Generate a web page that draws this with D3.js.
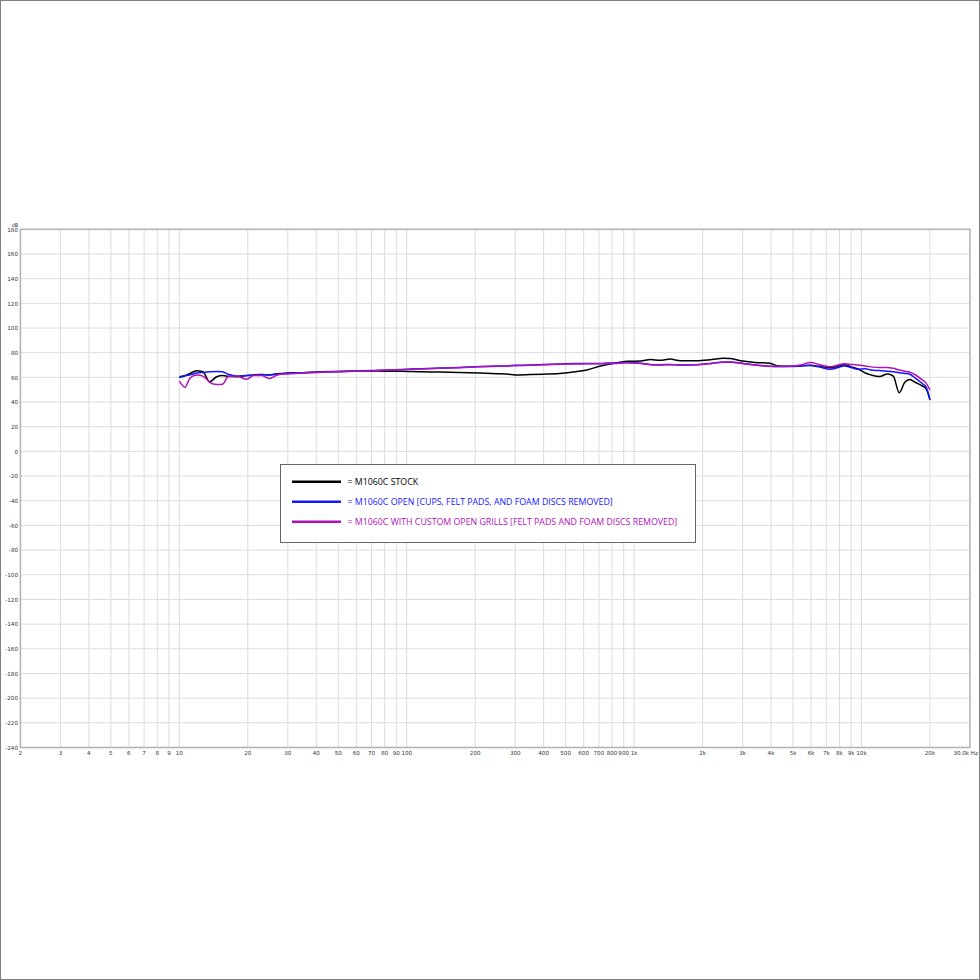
<!DOCTYPE html>
<html>
<head>
<meta charset="utf-8">
<script src="https://cdn.jsdelivr.net/npm/d3@7"></script>
<style>
  html, body { margin: 0; padding: 0; background: #fff; }
  svg { display: block; }
</style>
</head>
<body>
<svg id="chart" width="980" height="980"></svg>
<script>
// ---- data ----
const freqs = [10, 10.6, 11.1, 11.9, 12.7, 13.6, 14.6, 15.5, 16.4, 17.9, 19.8, 21.2, 23, 25, 27, 30, 35, 42, 50, 60, 70, 80, 95, 115, 140, 170, 210, 250, 280, 300, 350, 400, 470, 550, 620, 710, 820, 930, 1070, 1180, 1300, 1440, 1600, 1880, 2200, 2460, 2650, 3000, 3400, 3960, 4300, 4900, 5400, 5950, 6500, 7300, 7900, 8400, 9000, 9600, 10400, 11000, 12000, 13000, 13800, 14650, 15500, 16300, 17300, 18500, 19200, 20000];

const stock = [60, 61.3, 63, 65.4, 64.5, 56.5, 60.5, 61.5, 60.8, 60.5, 61.5, 62, 62.3, 62, 63, 63.5, 63.8, 64.3, 64.8, 65, 65.2, 65, 65, 64.5, 64.3, 64, 63.5, 63, 62.6, 62, 62.3, 62.6, 63.2, 64.5, 66, 69.2, 71.5, 73, 73.3, 74.5, 73.8, 74.8, 73.5, 73.5, 74.5, 75.4, 75.2, 73.2, 72, 71.5, 69.2, 69, 69.3, 69.8, 69, 67.8, 69, 70.2, 68.5, 67, 63.5, 62, 60.6, 62.8, 61, 47.5, 56, 58.3, 55.8, 53, 51, 42];

const openCups = [60.5, 61.5, 62, 63.5, 64, 64.5, 64.8, 64.5, 62.5, 61, 61.5, 61.8, 62, 62.2, 62.6, 63.3, 63.8, 64.5, 64.8, 65.2, 65.5, 66, 66.4, 67, 67.5, 68, 68.8, 69.2, 69.5, 69.8, 70, 70.5, 70.8, 71.2, 71.2, 71.3, 71.7, 72, 71.5, 70.5, 70.3, 70.5, 70, 70.3, 71.5, 72.5, 72.5, 71.3, 70, 69, 68.8, 68.8, 69.2, 69.6, 68.5, 66.5, 68, 69.2, 68, 66.5, 67, 66, 65.5, 65, 64.5, 63.8, 63.2, 62.5, 59.2, 55, 52.4, 41.6];

const customGrills = [57, 52, 59, 61.9, 61, 56, 54.3, 54.5, 60.5, 61, 58.4, 61.5, 61.5, 59, 62, 62.8, 63.5, 64.2, 64.6, 65, 65.2, 65.8, 66.2, 66.8, 67.3, 67.8, 68.5, 69, 69.2, 69.5, 69.8, 70.2, 70.6, 70.8, 71, 71, 71.3, 71.8, 71.2, 70.2, 70, 70.3, 70, 70.2, 71.3, 72.3, 72.3, 71.2, 70, 69, 68.8, 69, 70, 72, 70.5, 68.5, 70, 71, 70.5, 70, 69.2, 68.5, 68, 68, 67.3, 66, 65, 64.2, 61.9, 58, 55.5, 49.7];

const seriesNames = ["= M1060C STOCK", "= M1060C OPEN [CUPS, FELT PADS, AND FOAM DISCS REMOVED]", "= M1060C WITH CUSTOM OPEN GRILLS [FELT PADS AND FOAM DISCS REMOVED]"];
const seriesColors = ["#000000", "#1414ff", "#b010b8"];

const yTicks = [180, 160, 140, 120, 100, 80, 60, 40, 20, 0, -20, -40, -60, -80, -100, -120, -140, -160, -180, -200, -220, -240];
const xTickValues = [2, 3, 4, 5, 6, 7, 8, 9, 10, 20, 30, 40, 50, 60, 70, 80, 90, 100, 200, 300, 400, 500, 600, 700, 800, 900, 1000, 2000, 3000, 4000, 5000, 6000, 7000, 8000, 9000, 10000, 20000];
const xTickLabels = ["2", "3", "4", "5", "6", "7", "8", "9", "10", "20", "30", "40", "50", "60", "70", "80", "90", "100", "200", "300", "400", "500", "600", "700", "800", "900", "1k", "2k", "3k", "4k", "5k", "6k", "7k", "8k", "9k", "10k", "20k"];
const xEndLabel = "30.0k Hz";
const yUnit = "dB";

// ---- drawing ----
const svg = d3.select("#chart");
const W = 980, H = 980;
const plot = { left: 20.4, right: 970, top: 229.3, bottom: 747.5 };

const x = d3.scaleLog().domain([2, 30000]).range([plot.left, plot.right]);
const y = d3.scaleLinear().domain([-240, 180]).range([plot.bottom, plot.top]);

svg.append("rect").attr("x", 0).attr("y", 0).attr("width", W).attr("height", H).attr("fill", "#fff");
// outer frame
svg.append("rect").attr("x", 0.5).attr("y", 0.5).attr("width", W - 1).attr("height", H - 1)
  .attr("fill", "none").attr("stroke", "#808080").attr("stroke-width", 1);

// grid: vertical lines at 1..9 per decade
const gridX = [];
for (let d = 1; d <= 10000; d *= 10) {
  for (let m = 1; m <= 9; m++) {
    const v = m * d;
    if (v > 2 && v < 30000) gridX.push(v);
  }
}
const g = svg.append("g");
g.selectAll("line.gx").data(gridX).join("line")
  .attr("x1", d => x(d)).attr("x2", d => x(d))
  .attr("y1", plot.top).attr("y2", plot.bottom)
  .attr("stroke", "#dcdcdc").attr("stroke-width", 1);
g.selectAll("line.gy").data(yTicks.filter(v => v > -240 && v < 180)).join("line")
  .attr("x1", plot.left).attr("x2", plot.right)
  .attr("y1", d => y(d)).attr("y2", d => y(d))
  .attr("stroke", "#dcdcdc").attr("stroke-width", 1);

// plot frame
svg.append("rect").attr("x", plot.left).attr("y", plot.top)
  .attr("width", plot.right - plot.left).attr("height", plot.bottom - plot.top)
  .attr("fill", "none").attr("stroke", "#b4b4b4").attr("stroke-width", 1.6);

// y tick labels
const tickFont = "DejaVu Sans, sans-serif";
svg.append("g").selectAll("text").data(yTicks).join("text")
  .attr("x", 18).attr("y", d => y(d) + 2.2)
  .attr("text-anchor", "end").attr("font-family", tickFont).attr("font-size", 5.6)
  .attr("fill", "#333").text(d => String(d));
svg.append("text").attr("x", 15).attr("y", 227).attr("text-anchor", "middle")
  .attr("font-family", tickFont).attr("font-size", 5).attr("fill", "#333").text(yUnit);

// x tick labels
svg.append("g").selectAll("text").data(xTickValues).join("text")
  .attr("x", d => x(d)).attr("y", 754.5)
  .attr("text-anchor", "middle").attr("font-family", tickFont).attr("font-size", 5.6)
  .attr("fill", "#333").text((d, i) => xTickLabels[i]);
svg.append("text").attr("x", 978).attr("y", 754.5).attr("text-anchor", "end")
  .attr("font-family", tickFont).attr("font-size", 5.6).attr("fill", "#333").text(xEndLabel);

// curves
const series = [stock, openCups, customGrills];
const line = d3.line()
  .x((d, i) => x(freqs[i]))
  .y(d => y(d))
  .curve(d3.curveMonotoneX);
const cg = svg.append("g");
series.forEach((vals, k) => {
  cg.append("path").datum(vals)
    .attr("d", line)
    .attr("fill", "none")
    .attr("stroke", seriesColors[k])
    .attr("stroke-width", 1.5)
    .attr("stroke-linejoin", "round");
});

// legend
const lg = svg.append("g");
lg.append("rect").attr("x", 280.5).attr("y", 464.5).attr("width", 415).attr("height", 78)
  .attr("fill", "#fff").attr("stroke", "#666").attr("stroke-width", 1);
seriesNames.forEach((name, k) => {
  const yy = 481.7 + k * 20;
  lg.append("line").attr("x1", 292).attr("x2", 341).attr("y1", yy).attr("y2", yy)
    .attr("stroke", seriesColors[k]).attr("stroke-width", 2.5);
  lg.append("text").attr("x", 347.5).attr("y", yy + 3.3)
    .attr("font-family", "Open Sans, sans-serif").attr("font-size", 8.8)
    .attr("fill", seriesColors[k]).text(name);
});
</script>
</body>
</html>
